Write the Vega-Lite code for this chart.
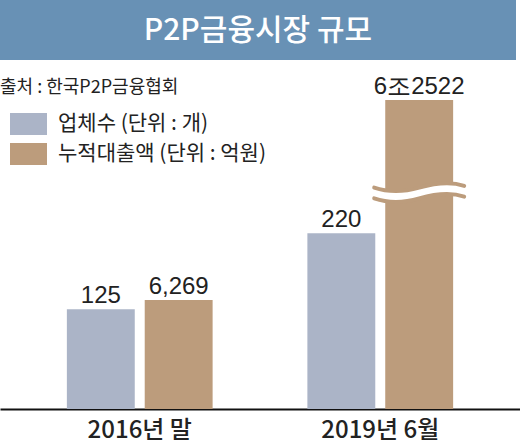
{
  "$schema": "https://vega.github.io/schema/vega-lite/v6.json",
  "padding": 0,
  "spacing": 40,
  "bounds": "flush",
  "config": {
    "font": "Noto Sans CJK KR",
    "view": {"stroke": null}
  },
  "vconcat": [
    {
      "width": 516,
      "height": 60,
      "view": {"fill": "#6891b5", "stroke": null},
      "title": {"text": "출처 : 한국P2P금융협회", "orient": "bottom", "anchor": "start", "baseline": "top", "fontSize": 18, "fontWeight": "normal", "color": "#222", "offset": 19, "dx": 0},
      "data": {"values": [{"t": "P2P금융시장 규모"}]},
      "mark": {"type": "text", "color": "white", "fontSize": 30, "font": "Noto Sans CJK KR", "fontWeight": 500, "baseline": "middle", "dy": 1},
      "encoding": {"text": {"field": "t"}}
    },
    {
      "width": 520,
      "height": 309,
      "data": {
        "values": [
          {"period": "2016년 말", "series": "업체수 (단위 : 개)", "value": 125, "label": "125"},
          {"period": "2016년 말", "series": "누적대출액 (단위 : 억원)", "value": 6269, "label": "6,269"},
          {"period": "2019년 6월", "series": "업체수 (단위 : 개)", "value": 220, "label": "220"},
          {"period": "2019년 6월", "series": "누적대출액 (단위 : 억원)", "value": 62522, "label": "6조2522"}
        ]
      },
      "encoding": {
        "x": {
          "field": "period", "type": "nominal", "sort": null,
          "scale": {"paddingInner": 0.394, "paddingOuter": 0.278},
          "axis": {"title": null, "labelAngle": 0, "labelFontSize": 24, "labelFontWeight": 500, "labelColor": "#222", "labelFont": "Noto Sans CJK KR", "ticks": false, "labelPadding": 9, "domainColor": "#111", "domainWidth": 2}
        },
        "xOffset": {
          "field": "series", "type": "nominal",
          "scale": {"domain": ["업체수 (단위 : 개)", "누적대출액 (단위 : 억원)"], "paddingInner": 0.128, "paddingOuter": 0}
        }
      },
      "layer": [
        {
          "transform": [{"filter": "datum.series == '업체수 (단위 : 개)'"}],
          "encoding": {
            "y": {"field": "value", "type": "quantitative", "scale": {"domain": [0, 387]}, "axis": null}
          },
          "layer": [
            {
              "mark": {"type": "bar"},
              "encoding": {
                "color": {
                  "field": "series", "type": "nominal",
                  "scale": {"domain": ["업체수 (단위 : 개)", "누적대출액 (단위 : 억원)"], "range": ["#abb4c7", "#bc9c7c"]},
                  "legend": {
                    "title": null, "orient": "none", "legendX": 10, "legendY": 105.5,
                    "symbolType": "M-1,-0.6H1V0.6H-1Z", "symbolSize": 1369, "symbolStrokeWidth": 0, "symbolOpacity": 1,
                    "labelFontSize": 21, "labelColor": "#222", "labelFont": "Noto Sans CJK KR", "labelOffset": 11,
                    "rowPadding": -9, "padding": 0, "labelLimit": 400
                  }
                }
              }
            },
            {
              "mark": {"type": "text", "fontSize": 24, "font": "Liberation Sans", "color": "#222", "baseline": "alphabetic", "dy": -6},
              "encoding": {"text": {"field": "label"}}
            }
          ]
        },
        {
          "encoding": {
            "y": {"field": "value", "type": "quantitative", "scale": {"domain": [0, 17770], "clamp": true}, "axis": null}
          },
          "layer": [
            {
              "transform": [{"filter": "datum.series == '누적대출액 (단위 : 억원)'"}],
              "mark": {"type": "bar"},
              "encoding": {"color": {"field": "series", "type": "nominal"}}
            },
            {
              "transform": [{"filter": "datum.series == '누적대출액 (단위 : 억원)'"}],
              "mark": {"type": "text", "fontSize": 24, "font": "Liberation Sans", "color": "#222", "baseline": "alphabetic", "dy": -6},
              "encoding": {"text": {"field": "label"}}
            },
            {
              "data": {"values": [{"period": "2019년 6월", "series": "누적대출액 (단위 : 억원)", "value": 12420}]},
              "mark": {"type": "point", "shape": "M-1,-0.12C-0.7,-0.02,-0.35,-0.02,0,-0.12C0.35,-0.22,0.7,-0.26,1,-0.16L1,0.08C0.7,-0.02,0.35,0.02,0,0.12C-0.35,0.22,-0.7,0.22,-1,0.12Z", "size": 8100, "filled": true, "fill": "white", "opacity": 1, "strokeWidth": 0}
            },
            {
              "data": {"values": [{"period": "2019년 6월", "series": "누적대출액 (단위 : 억원)", "value": 12420}]},
              "mark": {"type": "point", "shape": "M-1,-0.12C-0.7,-0.02,-0.35,-0.02,0,-0.12C0.35,-0.22,0.7,-0.26,1,-0.16M-1,0.12C-0.7,0.22,-0.35,0.22,0,0.12C0.35,0.02,0.7,-0.02,1,0.08", "size": 8100, "filled": false, "stroke": "#bc9c7c", "strokeWidth": 4, "strokeCap": "round", "opacity": 1}
            }
          ]
        }
      ],
      "resolve": {"scale": {"y": "independent"}}
    }
  ]
}
